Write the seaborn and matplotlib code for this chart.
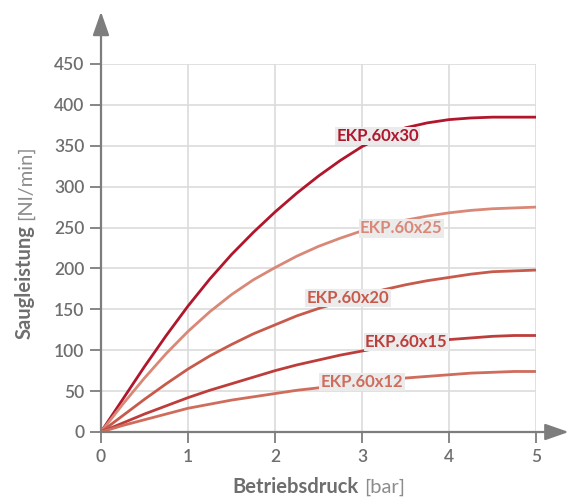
import matplotlib
matplotlib.use("Agg")
import matplotlib.pyplot as plt
import seaborn as sns
import pandas as pd

# Betriebsdruck [bar]
pressure = [0, 0.25, 0.5, 0.75, 1, 1.25, 1.5, 1.75, 2, 2.25, 2.5,
            2.75, 3, 3.25, 3.5, 3.75, 4, 4.25, 4.5, 4.75, 5]

# Saugleistung [Nl/min] per ejector
q_60x30 = [0, 40, 80, 118, 154, 187, 217, 244, 269, 292, 313,
           332, 349, 362, 372, 378, 382, 384, 385, 385, 385]
q_60x25 = [0, 34, 66, 96, 123, 147, 168, 186, 201, 215, 227,
           237, 246, 253, 259, 264, 268, 271, 273, 274, 275]
q_60x20 = [0, 20, 40, 59, 77, 93, 107, 120, 131, 142, 151,
           159, 167, 174, 180, 185, 189, 193, 196, 197, 198]
q_60x15 = [0, 11, 22, 32, 42, 51, 59, 67, 75, 82, 88,
           94, 99, 104, 108, 111, 113, 115, 117, 118, 118]
q_60x12 = [0, 8, 15, 22, 29, 34, 39, 43, 47, 51, 54,
           57, 60, 63, 66, 68, 70, 72, 73, 74, 74]

series_names = ["EKP.60x30", "EKP.60x25", "EKP.60x20", "EKP.60x15", "EKP.60x12"]
series_values = [q_60x30, q_60x25, q_60x20, q_60x15, q_60x12]

# where the inline labels sit (data coords)
label_x = [3.18, 3.45, 2.84, 3.51, 3.0]
label_y = [362, 249, 164, 110, 61]

x_ticks = [0, 1, 2, 3, 4, 5]
y_ticks = [0, 50, 100, 150, 200, 250, 300, 350, 400, 450]

colors = {
    "EKP.60x30": "#b0172c",
    "EKP.60x25": "#d98878",
    "EKP.60x20": "#c85a4c",
    "EKP.60x15": "#bd3d3b",
    "EKP.60x12": "#cf6c5c",
}

rows = []
for name, vals in zip(series_names, series_values):
    for p, q in zip(pressure, vals):
        rows.append({"Betriebsdruck": p, "Saugleistung": q, "Typ": name})
df = pd.DataFrame(rows)

sns.set_style("white")
plt.rcParams["font.family"] = ["Lato", "DejaVu Sans"]

grey = "#6e6e6e"
axis_grey = "#7d7d7d"

fig = plt.figure(figsize=(5.68, 5.0), dpi=100)
ax = fig.add_axes([101 / 568, 68 / 500, 435 / 568, 368 / 500])

# grid limited to data area
for v in x_ticks[1:]:
    ax.axvline(v, color="#dcdcdc", lw=1.2, zorder=0)
for v in y_ticks[1:]:
    ax.axhline(v, color="#dcdcdc", lw=1.2, zorder=0)

sns.lineplot(data=df, x="Betriebsdruck", y="Saugleistung", hue="Typ",
             palette=colors, linewidth=2, legend=False, ax=ax, zorder=2)

ax.set_xlim(0, 5)
ax.set_ylim(0, 450)
ax.set_xticks(x_ticks)
ax.set_yticks(y_ticks)
ax.set_xlabel("")
ax.set_ylabel("")
for s in ax.spines.values():
    s.set_visible(False)
ax.tick_params(axis="both", direction="out", length=8, width=1.3, color=axis_grey,
               labelcolor=grey, labelsize=12.5, pad=4, left=True, bottom=True)
for lab in ax.get_xticklabels() + ax.get_yticklabels():
    lab.set_fontweight("semibold")

# axes with arrow heads
arrow = dict(arrowstyle="-|>,head_length=0.8,head_width=0.28", color=axis_grey,
             lw=1.6, shrinkA=0, shrinkB=0, mutation_scale=18)
ax.annotate("", xy=(0, 1.142), xytext=(0, 0), xycoords="axes fraction",
            textcoords="axes fraction", arrowprops=arrow, annotation_clip=False)
ax.annotate("", xy=(1.075, 0), xytext=(0, 0), xycoords="axes fraction",
            textcoords="axes fraction", arrowprops=arrow, annotation_clip=False)

# inline series labels
for name, lx, ly in zip(series_names, label_x, label_y):
    ax.text(lx, ly, name, color=colors[name], fontsize=12, fontweight="bold",
            ha="center", va="center", zorder=5,
            bbox=dict(boxstyle="square,pad=0.08", fc="#ebebeb", ec="none"))

# axis titles: bold word + lighter unit
fig.canvas.draw()
r = fig.canvas.get_renderer()

xa = fig.text(0, 0, "Betriebsdruck", fontsize=14.5, fontweight="bold", color=grey,
              ha="left", va="center")
xb = fig.text(0, 0, "[bar]", fontsize=14.5, fontweight="normal", color="#8c8c8c",
              ha="left", va="center")
wa = xa.get_window_extent(r).width
wb = xb.get_window_extent(r).width
gap = 5
x0 = 318.5 - (wa + gap + wb) / 2
xa.set_position((x0 / 568, 1 - 487 / 500))
xb.set_position(((x0 + wa + gap) / 568, 1 - 487 / 500))

ya = fig.text(0, 0, "Saugleistung", fontsize=14.5, fontweight="bold", color=grey,
              rotation=90, ha="center", va="bottom")
yb = fig.text(0, 0, "[Nl/min]", fontsize=14.5, fontweight="normal", color="#8c8c8c",
              rotation=90, ha="center", va="bottom")
ha_ = ya.get_window_extent(r).height
hb_ = yb.get_window_extent(r).height
y0 = 242 + (ha_ + gap + hb_) / 2  # pixel from top, bottom of the word
ya.set_position((25 / 568, 1 - y0 / 500))
yb.set_position((25 / 568, 1 - (y0 - ha_ - gap) / 500))

fig.savefig("out.png", dpi=100)
